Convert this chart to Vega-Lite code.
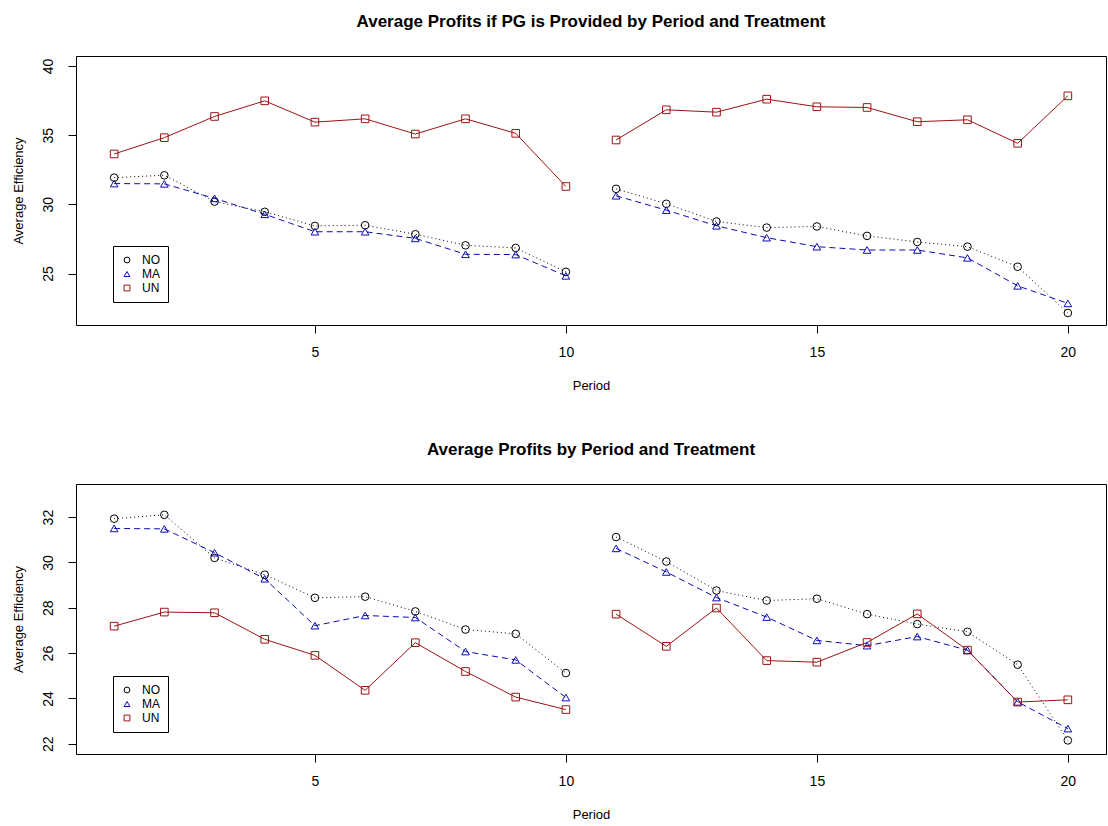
{
  "$schema": "https://vega.github.io/schema/vega-lite/v6.json",
  "padding": {"left": 11, "top": 12, "right": 4, "bottom": 0},
  "background": "white",
  "spacing": 47,
  "config": {
    "font": "Liberation Sans",
    "view": {"stroke": "black", "strokeWidth": 1},
    "axis": {
      "grid": false, "domain": false, "tickColor": "black", "tickSize": 8, "tickWidth": 1,
      "labelColor": "black", "labelFontSize": 14, "labelFont": "Liberation Sans",
      "titleColor": "black", "titleFontSize": 13, "titleFontWeight": "normal", "titleFont": "Liberation Sans"
    },
    "axisX": {"labelPadding": 12, "titlePadding": 20},
    "axisY": {"labelAngle": 270, "labelAlign": "center", "labelBaseline": "bottom", "labelPadding": 13, "titlePadding": 16},
    "legend": {
      "strokeColor": "black", "padding": 8, "labelFontSize": 12, "labelFont": "Liberation Sans",
      "labelColor": "black", "symbolSize": 34, "rowPadding": 2, "symbolStrokeWidth": 1, "labelOffset": 9,
      "cornerRadius": 0
    },
    "title": {"fontSize": 17, "fontWeight": "bold", "font": "Liberation Sans", "color": "black", "baseline": "bottom", "offset": 25, "anchor": "middle"}
  },
  "resolve": {
    "scale": {"x": "independent", "y": "independent", "color": "independent", "shape": "independent"}
  },
  "datasets": {
    "pg": [
      {"period": 1, "block": "A", "treatment": "NO", "eff": 31.93},
      {"period": 2, "block": "A", "treatment": "NO", "eff": 32.1},
      {"period": 3, "block": "A", "treatment": "NO", "eff": 30.2},
      {"period": 4, "block": "A", "treatment": "NO", "eff": 29.46},
      {"period": 5, "block": "A", "treatment": "NO", "eff": 28.44},
      {"period": 6, "block": "A", "treatment": "NO", "eff": 28.49},
      {"period": 7, "block": "A", "treatment": "NO", "eff": 27.84},
      {"period": 8, "block": "A", "treatment": "NO", "eff": 27.04},
      {"period": 9, "block": "A", "treatment": "NO", "eff": 26.85},
      {"period": 10, "block": "A", "treatment": "NO", "eff": 25.12},
      {"period": 11, "block": "B", "treatment": "NO", "eff": 31.12},
      {"period": 12, "block": "B", "treatment": "NO", "eff": 30.04},
      {"period": 13, "block": "B", "treatment": "NO", "eff": 28.76},
      {"period": 14, "block": "B", "treatment": "NO", "eff": 28.32},
      {"period": 15, "block": "B", "treatment": "NO", "eff": 28.4},
      {"period": 16, "block": "B", "treatment": "NO", "eff": 27.72},
      {"period": 17, "block": "B", "treatment": "NO", "eff": 27.28},
      {"period": 18, "block": "B", "treatment": "NO", "eff": 26.94},
      {"period": 19, "block": "B", "treatment": "NO", "eff": 25.49},
      {"period": 20, "block": "B", "treatment": "NO", "eff": 22.15},
      {"period": 1, "block": "A", "treatment": "MA", "eff": 31.5},
      {"period": 2, "block": "A", "treatment": "MA", "eff": 31.48},
      {"period": 3, "block": "A", "treatment": "MA", "eff": 30.43},
      {"period": 4, "block": "A", "treatment": "MA", "eff": 29.28},
      {"period": 5, "block": "A", "treatment": "MA", "eff": 28.02},
      {"period": 6, "block": "A", "treatment": "MA", "eff": 28.02},
      {"period": 7, "block": "A", "treatment": "MA", "eff": 27.54},
      {"period": 8, "block": "A", "treatment": "MA", "eff": 26.39},
      {"period": 9, "block": "A", "treatment": "MA", "eff": 26.37},
      {"period": 10, "block": "A", "treatment": "MA", "eff": 24.83},
      {"period": 11, "block": "B", "treatment": "MA", "eff": 30.62},
      {"period": 12, "block": "B", "treatment": "MA", "eff": 29.58},
      {"period": 13, "block": "B", "treatment": "MA", "eff": 28.45},
      {"period": 14, "block": "B", "treatment": "MA", "eff": 27.59},
      {"period": 15, "block": "B", "treatment": "MA", "eff": 26.94},
      {"period": 16, "block": "B", "treatment": "MA", "eff": 26.7},
      {"period": 17, "block": "B", "treatment": "MA", "eff": 26.7},
      {"period": 18, "block": "B", "treatment": "MA", "eff": 26.13},
      {"period": 19, "block": "B", "treatment": "MA", "eff": 24.11},
      {"period": 20, "block": "B", "treatment": "MA", "eff": 22.84},
      {"period": 1, "block": "A", "treatment": "UN", "eff": 33.64},
      {"period": 2, "block": "A", "treatment": "UN", "eff": 34.82},
      {"period": 3, "block": "A", "treatment": "UN", "eff": 36.35},
      {"period": 4, "block": "A", "treatment": "UN", "eff": 37.48},
      {"period": 5, "block": "A", "treatment": "UN", "eff": 35.94},
      {"period": 6, "block": "A", "treatment": "UN", "eff": 36.18},
      {"period": 7, "block": "A", "treatment": "UN", "eff": 35.08},
      {"period": 8, "block": "A", "treatment": "UN", "eff": 36.18},
      {"period": 9, "block": "A", "treatment": "UN", "eff": 35.13},
      {"period": 10, "block": "A", "treatment": "UN", "eff": 31.29},
      {"period": 11, "block": "B", "treatment": "UN", "eff": 34.65},
      {"period": 12, "block": "B", "treatment": "UN", "eff": 36.83},
      {"period": 13, "block": "B", "treatment": "UN", "eff": 36.66},
      {"period": 14, "block": "B", "treatment": "UN", "eff": 37.6},
      {"period": 15, "block": "B", "treatment": "UN", "eff": 37.05},
      {"period": 16, "block": "B", "treatment": "UN", "eff": 37.0},
      {"period": 17, "block": "B", "treatment": "UN", "eff": 35.97},
      {"period": 18, "block": "B", "treatment": "UN", "eff": 36.11},
      {"period": 19, "block": "B", "treatment": "UN", "eff": 34.41},
      {"period": 20, "block": "B", "treatment": "UN", "eff": 37.84}
    ],
    "all": [
      {"period": 1, "block": "A", "treatment": "NO", "eff": 31.93},
      {"period": 2, "block": "A", "treatment": "NO", "eff": 32.1},
      {"period": 3, "block": "A", "treatment": "NO", "eff": 30.2},
      {"period": 4, "block": "A", "treatment": "NO", "eff": 29.46},
      {"period": 5, "block": "A", "treatment": "NO", "eff": 28.44},
      {"period": 6, "block": "A", "treatment": "NO", "eff": 28.49},
      {"period": 7, "block": "A", "treatment": "NO", "eff": 27.84},
      {"period": 8, "block": "A", "treatment": "NO", "eff": 27.04},
      {"period": 9, "block": "A", "treatment": "NO", "eff": 26.85},
      {"period": 10, "block": "A", "treatment": "NO", "eff": 25.12},
      {"period": 11, "block": "B", "treatment": "NO", "eff": 31.12},
      {"period": 12, "block": "B", "treatment": "NO", "eff": 30.04},
      {"period": 13, "block": "B", "treatment": "NO", "eff": 28.76},
      {"period": 14, "block": "B", "treatment": "NO", "eff": 28.32},
      {"period": 15, "block": "B", "treatment": "NO", "eff": 28.4},
      {"period": 16, "block": "B", "treatment": "NO", "eff": 27.72},
      {"period": 17, "block": "B", "treatment": "NO", "eff": 27.28},
      {"period": 18, "block": "B", "treatment": "NO", "eff": 26.94},
      {"period": 19, "block": "B", "treatment": "NO", "eff": 25.49},
      {"period": 20, "block": "B", "treatment": "NO", "eff": 22.15},
      {"period": 1, "block": "A", "treatment": "MA", "eff": 31.5},
      {"period": 2, "block": "A", "treatment": "MA", "eff": 31.48},
      {"period": 3, "block": "A", "treatment": "MA", "eff": 30.43},
      {"period": 4, "block": "A", "treatment": "MA", "eff": 29.28},
      {"period": 5, "block": "A", "treatment": "MA", "eff": 27.21},
      {"period": 6, "block": "A", "treatment": "MA", "eff": 27.66},
      {"period": 7, "block": "A", "treatment": "MA", "eff": 27.57},
      {"period": 8, "block": "A", "treatment": "MA", "eff": 26.07},
      {"period": 9, "block": "A", "treatment": "MA", "eff": 25.7},
      {"period": 10, "block": "A", "treatment": "MA", "eff": 24.04},
      {"period": 11, "block": "B", "treatment": "MA", "eff": 30.62},
      {"period": 12, "block": "B", "treatment": "MA", "eff": 29.58},
      {"period": 13, "block": "B", "treatment": "MA", "eff": 28.45},
      {"period": 14, "block": "B", "treatment": "MA", "eff": 27.59},
      {"period": 15, "block": "B", "treatment": "MA", "eff": 26.56},
      {"period": 16, "block": "B", "treatment": "MA", "eff": 26.33},
      {"period": 17, "block": "B", "treatment": "MA", "eff": 26.73},
      {"period": 18, "block": "B", "treatment": "MA", "eff": 26.13},
      {"period": 19, "block": "B", "treatment": "MA", "eff": 23.85},
      {"period": 20, "block": "B", "treatment": "MA", "eff": 22.67},
      {"period": 1, "block": "A", "treatment": "UN", "eff": 27.19},
      {"period": 2, "block": "A", "treatment": "UN", "eff": 27.81},
      {"period": 3, "block": "A", "treatment": "UN", "eff": 27.78},
      {"period": 4, "block": "A", "treatment": "UN", "eff": 26.61},
      {"period": 5, "block": "A", "treatment": "UN", "eff": 25.9},
      {"period": 6, "block": "A", "treatment": "UN", "eff": 24.36},
      {"period": 7, "block": "A", "treatment": "UN", "eff": 26.46},
      {"period": 8, "block": "A", "treatment": "UN", "eff": 25.19},
      {"period": 9, "block": "A", "treatment": "UN", "eff": 24.06},
      {"period": 10, "block": "A", "treatment": "UN", "eff": 23.51},
      {"period": 11, "block": "B", "treatment": "UN", "eff": 27.72},
      {"period": 12, "block": "B", "treatment": "UN", "eff": 26.3},
      {"period": 13, "block": "B", "treatment": "UN", "eff": 27.99},
      {"period": 14, "block": "B", "treatment": "UN", "eff": 25.67},
      {"period": 15, "block": "B", "treatment": "UN", "eff": 25.6},
      {"period": 16, "block": "B", "treatment": "UN", "eff": 26.47},
      {"period": 17, "block": "B", "treatment": "UN", "eff": 27.73},
      {"period": 18, "block": "B", "treatment": "UN", "eff": 26.13},
      {"period": 19, "block": "B", "treatment": "UN", "eff": 23.84},
      {"period": 20, "block": "B", "treatment": "UN", "eff": 23.94}
    ]
  },
  "vconcat": [
    {
      "title": {"text": "Average Profits if PG is Provided by Period and Treatment"},
      "width": 1030,
      "height": 269,
      "data": {"name": "pg"},
      "encoding": {
        "x": {"field": "period", "type": "quantitative", "scale": {"domain": [0.24, 20.76], "nice": false, "zero": false},
              "axis": {"values": [5, 10, 15, 20], "title": "Period"}},
        "y": {"field": "eff", "type": "quantitative", "scale": {"domain": [21.28, 40.72], "nice": false, "zero": false},
              "axis": {"values": [25, 30, 35, 40], "title": "Average Efficiency"}}
      },
      "layer": [
        {
          "transform": [{"filter": "datum.treatment === 'NO'"}],
          "mark": {"type": "line", "strokeWidth": 1, "color": "#000000", "strokeDash": [1, 3]},
          "encoding": {"detail": {"field": "block"}}
        },
        {
          "transform": [{"filter": "datum.treatment === 'MA'"}],
          "mark": {"type": "line", "strokeWidth": 1, "color": "#0C0CB4", "strokeDash": [6, 4]},
          "encoding": {"detail": {"field": "block"}}
        },
        {
          "transform": [{"filter": "datum.treatment === 'UN'"}],
          "mark": {"type": "line", "strokeWidth": 1, "color": "#9C1414"},
          "encoding": {"detail": {"field": "block"}}
        },
        {
          "mark": {"type": "point", "filled": false, "strokeWidth": 1, "opacity": 1, "size": 58},
          "encoding": {
            "color": {"field": "treatment", "type": "nominal", "scale": {"domain": ["NO", "MA", "UN"], "range": ["#000000", "#0C0CB4", "#9C1414"]},
                      "legend": {"orient": "none", "legendX": 37, "legendY": 190, "title": null}},
            "shape": {"field": "treatment", "type": "nominal", "scale": {"domain": ["NO", "MA", "UN"], "range": ["circle", "triangle-up", "square"]},
                      "legend": {"orient": "none", "legendX": 37, "legendY": 190, "title": null}}
          }
        }
      ]
    },
    {
      "title": {"text": "Average Profits by Period and Treatment"},
      "width": 1030,
      "height": 270,
      "data": {"name": "all"},
      "encoding": {
        "x": {"field": "period", "type": "quantitative", "scale": {"domain": [0.24, 20.76], "nice": false, "zero": false},
              "axis": {"values": [5, 10, 15, 20], "title": "Period"}},
        "y": {"field": "eff", "type": "quantitative", "scale": {"domain": [21.55, 33.46], "nice": false, "zero": false},
              "axis": {"values": [22, 24, 26, 28, 30, 32], "title": "Average Efficiency"}}
      },
      "layer": [
        {
          "transform": [{"filter": "datum.treatment === 'NO'"}],
          "mark": {"type": "line", "strokeWidth": 1, "color": "#000000", "strokeDash": [1, 3]},
          "encoding": {"detail": {"field": "block"}}
        },
        {
          "transform": [{"filter": "datum.treatment === 'MA'"}],
          "mark": {"type": "line", "strokeWidth": 1, "color": "#0C0CB4", "strokeDash": [6, 4]},
          "encoding": {"detail": {"field": "block"}}
        },
        {
          "transform": [{"filter": "datum.treatment === 'UN'"}],
          "mark": {"type": "line", "strokeWidth": 1, "color": "#9C1414"},
          "encoding": {"detail": {"field": "block"}}
        },
        {
          "mark": {"type": "point", "filled": false, "strokeWidth": 1, "opacity": 1, "size": 58},
          "encoding": {
            "color": {"field": "treatment", "type": "nominal", "scale": {"domain": ["NO", "MA", "UN"], "range": ["#000000", "#0C0CB4", "#9C1414"]},
                      "legend": {"orient": "none", "legendX": 37, "legendY": 192, "title": null}},
            "shape": {"field": "treatment", "type": "nominal", "scale": {"domain": ["NO", "MA", "UN"], "range": ["circle", "triangle-up", "square"]},
                      "legend": {"orient": "none", "legendX": 37, "legendY": 192, "title": null}}
          }
        }
      ]
    }
  ]
}
